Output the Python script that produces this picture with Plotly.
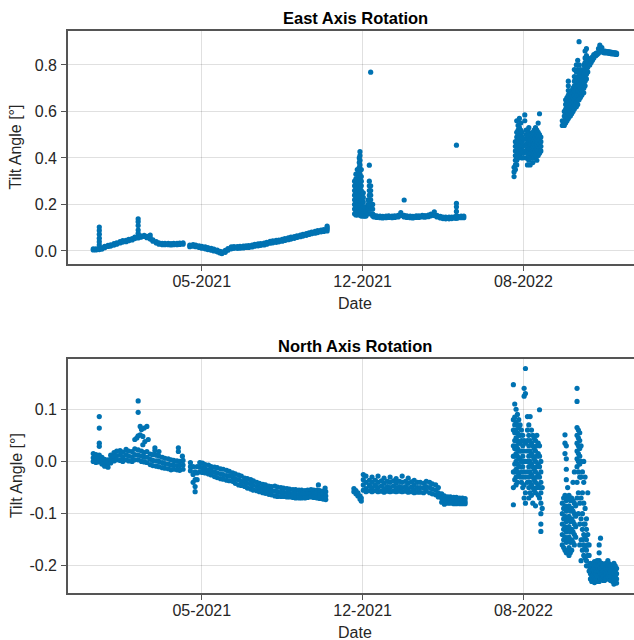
import pandas as pd
import plotly.graph_objects as go

BASE_DATE = "2020-11-01"   # day 0 of the day offsets below

# ---------------- East axis rotation: day offset -> readings [deg] ----------------
east_days = [
    21, 25, 30, 34, 38, 43, 47, 52, 56, 61, 65, 70, 74, 79, 83, 88, 92, 97, 101, 106,
    110, 115, 119, 124, 128, 133, 137, 141, 146, 150, 155,
    165, 170, 174, 179, 183, 188, 192, 197, 201, 206, 210, 213, 218, 222, 227,
    231, 236, 240, 245, 249, 253, 258, 262, 267, 271, 276, 280, 285, 289, 294,
    298, 303, 307, 312, 316, 321, 325, 330, 334, 339, 343, 347, 352, 356, 361, 365, 370,
    411, 413, 415, 418, 419, 421, 424, 426, 428, 431, 433, 435, 438,
    440, 444, 449, 453, 458, 462, 467, 471, 476, 480, 485, 489, 494, 498, 503,
    507, 512, 516, 521, 525, 530, 534, 539, 543, 547, 552, 556, 561, 563, 565, 570, 574,
    649, 651, 653, 655, 657, 659, 661, 663, 665, 667, 669, 671, 673, 675, 677,
    679, 681, 683, 685, 687, 689,
    721, 724, 726, 728, 730, 733, 735, 737, 739, 742, 744, 746, 748, 750, 753,
    755, 757, 759, 762, 764, 766, 768, 771, 773, 775, 777, 780, 782, 784, 786,
    789, 791, 793, 795, 798, 800, 802,
]
east_vals = [
    [0.009, 0.004], [0.009, 0.004], [0.011, 0.006, 0.026, 0.040, 0.055, 0.072, 0.088, 0.103],
    [0.013, 0.008], [0.020, 0.014], [0.024, 0.019], [0.026, 0.021], [0.031, 0.025],
    [0.035, 0.029], [0.040, 0.034], [0.044, 0.038], [0.046, 0.040], [0.050, 0.044],
    [0.053, 0.047], [0.059, 0.053], [0.062, 0.056, 0.076, 0.090, 0.109, 0.126, 0.138],
    [0.065, 0.059], [0.067, 0.062], [0.063, 0.057], [0.057, 0.051, 0.068],
    [0.048, 0.042], [0.040, 0.034], [0.035, 0.029], [0.033, 0.027], [0.033, 0.027],
    [0.033, 0.027], [0.032, 0.026], [0.033, 0.027], [0.033, 0.027], [0.034, 0.028],
    [0.035, 0.029],
    [0.025, 0.018], [0.027, 0.020], [0.025, 0.018], [0.022, 0.015], [0.020, 0.012],
    [0.017, 0.009], [0.014, 0.006], [0.011, 0.003], [0.008, 0.000], [0.004, -0.004],
    [-0.002, -0.009], [-0.004, -0.012], [0.002, -0.006], [0.010, 0.003], [0.017, 0.009],
    [0.019, 0.011], [0.019, 0.011], [0.020, 0.012], [0.021, 0.013], [0.022, 0.015],
    [0.023, 0.015], [0.025, 0.017], [0.028, 0.020], [0.030, 0.022], [0.032, 0.024],
    [0.034, 0.026], [0.037, 0.029], [0.041, 0.033], [0.043, 0.035], [0.045, 0.037],
    [0.047, 0.039], [0.050, 0.042], [0.053, 0.045], [0.056, 0.048], [0.059, 0.051],
    [0.062, 0.054], [0.065, 0.058], [0.068, 0.061], [0.071, 0.064], [0.075, 0.067],
    [0.078, 0.071], [0.081, 0.074], [0.084, 0.076], [0.087, 0.079], [0.090, 0.082],
    [0.092, 0.084], [0.094, 0.086, 0.100, 0.107],
    [0.30, 0.28, 0.26, 0.24, 0.22, 0.20, 0.18, 0.16],
    [0.33, 0.31, 0.29, 0.27, 0.25, 0.23, 0.21, 0.19, 0.17, 0.155],
    [0.35, 0.33, 0.31, 0.29, 0.27, 0.25, 0.23, 0.21, 0.19, 0.17, 0.155],
    [0.40, 0.38, 0.36, 0.34, 0.32, 0.30, 0.28, 0.26, 0.24, 0.22, 0.20, 0.18, 0.16],
    [0.427, 0.41, 0.39, 0.37, 0.35, 0.33, 0.31, 0.29, 0.27, 0.25, 0.23, 0.21, 0.19, 0.17, 0.155],
    [0.35, 0.32, 0.30, 0.28, 0.26, 0.24, 0.22, 0.20, 0.18, 0.16, 0.15],
    [0.25, 0.23, 0.21, 0.19, 0.17, 0.15],
    [0.19, 0.17, 0.15],
    [0.17, 0.15],
    [0.22, 0.20, 0.18, 0.16],
    [0.30, 0.28, 0.26, 0.24, 0.22, 0.20, 0.18, 0.16, 0.369],
    [0.28, 0.26, 0.24, 0.22, 0.20, 0.18, 0.16, 0.769],
    [0.20, 0.18, 0.16, 0.15],
    [0.153, 0.146], [0.151, 0.144], [0.150, 0.143], [0.149, 0.142], [0.150, 0.143],
    [0.151, 0.144], [0.150, 0.143], [0.151, 0.144], [0.153, 0.146], [0.165, 0.152],
    [0.153, 0.146, 0.219], [0.151, 0.144], [0.150, 0.143], [0.149, 0.142], [0.151, 0.144],
    [0.151, 0.144], [0.153, 0.146], [0.152, 0.145], [0.154, 0.147], [0.158, 0.151],
    [0.168, 0.152], [0.153, 0.146], [0.149, 0.142], [0.146, 0.139], [0.145, 0.138],
    [0.145, 0.138], [0.146, 0.139], [0.148, 0.141],
    [0.148, 0.141, 0.17, 0.19, 0.205, 0.455], [0.149, 0.142], [0.150, 0.143], [0.150, 0.143],
    [0.32, 0.34, 0.36],
    [0.35, 0.37, 0.39, 0.41, 0.43, 0.45, 0.47],
    [0.37, 0.39, 0.41, 0.43, 0.45, 0.47, 0.49, 0.51, 0.56],
    [0.40, 0.42, 0.44, 0.46, 0.48, 0.50, 0.52, 0.54],
    [0.41, 0.43, 0.45, 0.47, 0.49, 0.51, 0.53, 0.57],
    [0.42, 0.44, 0.46, 0.48, 0.50, 0.52, 0.55],
    [0.40, 0.43, 0.45, 0.47, 0.49, 0.51],
    [0.42, 0.45, 0.48],
    [0.56, 0.585],
    [0.40, 0.43, 0.46, 0.48, 0.50, 0.52],
    [0.37, 0.40, 0.42, 0.44, 0.46, 0.48, 0.50],
    [0.39, 0.41, 0.43, 0.45, 0.47, 0.49, 0.51, 0.53],
    [0.37, 0.40, 0.42, 0.44, 0.46, 0.48],
    [0.40, 0.42, 0.44, 0.46, 0.48, 0.50],
    [0.38, 0.41, 0.43, 0.45, 0.47, 0.49, 0.51],
    [0.40, 0.42, 0.44, 0.46, 0.48, 0.50, 0.52],
    [0.41, 0.43, 0.45, 0.47, 0.49, 0.51, 0.53],
    [0.39, 0.42, 0.44, 0.46, 0.48, 0.50, 0.52],
    [0.41, 0.43, 0.45, 0.47, 0.49, 0.51, 0.55],
    [0.42, 0.44, 0.46, 0.48, 0.50, 0.59],
    [0.43, 0.45, 0.47, 0.49],
    [0.54, 0.56],
    [0.54, 0.56, 0.58, 0.60],
    [0.55, 0.57, 0.59, 0.61, 0.63, 0.65],
    [0.56, 0.58, 0.60, 0.62, 0.64, 0.66],
    [0.57, 0.59, 0.61, 0.63, 0.65, 0.67, 0.69, 0.71, 0.73],
    [0.58, 0.60, 0.62, 0.64, 0.66, 0.68],
    [0.59, 0.61, 0.63, 0.65, 0.67, 0.69],
    [0.60, 0.62, 0.64, 0.66, 0.68, 0.70],
    [0.61, 0.63, 0.65, 0.67, 0.69, 0.71, 0.73, 0.75, 0.78],
    [0.62, 0.64, 0.66, 0.68, 0.70, 0.72, 0.74, 0.77, 0.80],
    [0.63, 0.65, 0.67, 0.69, 0.71, 0.73, 0.75, 0.78, 0.82],
    [0.65, 0.67, 0.69, 0.71, 0.73, 0.75, 0.77, 0.80, 0.90],
    [0.66, 0.68, 0.70, 0.72, 0.74, 0.76, 0.78],
    [0.67, 0.69, 0.71, 0.73, 0.75, 0.77],
    [0.68, 0.70, 0.72, 0.74, 0.76, 0.78, 0.80],
    [0.71, 0.73, 0.75, 0.77, 0.79, 0.81, 0.83, 0.86],
    [0.74, 0.76, 0.78, 0.80, 0.82, 0.84, 0.87],
    [0.77, 0.79, 0.81, 0.83],
    [0.80, 0.815], [0.81, 0.825], [0.82, 0.835], [0.83, 0.845], [0.84, 0.85],
    [0.845, 0.852], [0.85, 0.87], [0.86, 0.885], [0.86, 0.875], [0.853, 0.86],
    [0.852, 0.86], [0.852, 0.858], [0.851, 0.857], [0.85, 0.856], [0.849, 0.855],
    [0.848, 0.854], [0.847, 0.853], [0.846, 0.852], [0.845, 0.851],
]

# ---------------- North axis rotation: day offset -> readings [deg] ----------------
north_days = [
    21, 25, 30, 34, 38, 43, 47, 52, 56, 61, 65, 70, 74, 79, 83, 86, 88, 91, 93, 95,
    97, 98, 101, 103, 106, 110, 113, 115, 119, 124, 128, 133, 137, 141, 146, 148, 150, 154, 155,
    166, 170, 173, 176, 180, 184, 188, 193, 197, 202, 206, 211, 215, 220, 224,
    229, 233, 238, 242, 247, 251, 256, 260, 265, 269, 274, 278, 283, 287, 292,
    296, 301, 305, 310, 314, 319, 323, 328, 332, 337, 341, 346, 350, 355, 357, 359, 364, 367, 368,
    410, 413, 416, 419, 421, 424, 428, 433, 437, 442, 446, 451, 455, 460, 464,
    469, 473, 478, 482, 487, 491, 496, 500, 505, 509, 514, 518, 523, 527, 532,
    536, 541, 545, 550, 554, 559, 563, 568, 572, 576,
    648, 650, 652, 654, 656, 658, 660, 662, 664, 666, 669, 671, 673, 675, 677,
    679, 681, 683, 685, 687, 689, 691,
    721, 723, 725, 727, 729, 731, 733, 735, 737, 739, 741, 743, 745, 747, 749,
    751, 753, 755, 757, 759, 761, 763, 765, 767, 769, 771, 773, 776, 778, 780,
    782, 784, 786, 789, 791, 793, 796, 798, 800, 802,
]
north_vals = [
    [0.015, 0.007, 0.000], [0.013, 0.005, -0.002], [0.012, 0.004, -0.001, 0.029, 0.035, 0.064, 0.086],
    [0.008, 0.001, -0.005], [0.004, -0.003, -0.009], [0.003, -0.004, -0.011], [0.012, 0.004, -0.003],
    [0.017, 0.009, 0.001], [0.020, 0.011, 0.003], [0.021, 0.012, 0.002], [0.018, 0.009, 0.000],
    [0.023, 0.013, 0.003], [0.020, 0.010, 0.001], [0.019, 0.009, 0.000], [0.024, 0.013, 0.003, 0.042],
    [0.045], [0.022, 0.012, 0.003, 0.049, 0.094, 0.116], [0.067, 0.051], [0.020, 0.010, 0.000, 0.061],
    [0.048, 0.032], [0.017, 0.008, -0.001, 0.064], [0.038], [0.019, 0.008, -0.002, 0.067], [0.042],
    [0.014, 0.004, -0.006], [0.013, 0.002, -0.008], [0.026, 0.021], [0.012, 0.001, -0.009],
    [0.010, 0.000, -0.010, 0.019], [0.008, -0.002, -0.012], [0.006, -0.004, -0.013],
    [0.005, -0.005, -0.014], [0.003, -0.007, -0.016], [0.002, -0.007, -0.015], [0.001, -0.008, -0.016],
    [0.026, 0.019], [0.000, -0.008, -0.017], [0.010], [0.002, -0.007, -0.015],
    [-0.002, -0.010, -0.018], [-0.010, -0.025, -0.040], [-0.020, -0.035, -0.048, -0.058],
    [-0.010, -0.022, -0.035], [-0.002, -0.011, -0.020], [-0.003, -0.012, -0.021],
    [-0.006, -0.014, -0.022], [-0.007, -0.016, -0.024], [-0.010, -0.018, -0.026],
    [-0.011, -0.020, -0.029], [-0.012, -0.022, -0.031], [-0.014, -0.024, -0.033],
    [-0.015, -0.025, -0.034], [-0.017, -0.027, -0.036], [-0.019, -0.028, -0.037],
    [-0.022, -0.030, -0.038], [-0.024, -0.033, -0.042], [-0.026, -0.035, -0.045],
    [-0.028, -0.038, -0.046], [-0.032, -0.040, -0.048], [-0.033, -0.042, -0.051],
    [-0.035, -0.044, -0.053], [-0.037, -0.046, -0.055], [-0.040, -0.048, -0.056],
    [-0.042, -0.050, -0.058], [-0.044, -0.052, -0.060], [-0.045, -0.053, -0.061],
    [-0.047, -0.055, -0.063], [-0.048, -0.056, -0.064], [-0.047, -0.057, -0.066],
    [-0.049, -0.058, -0.067], [-0.050, -0.059, -0.067], [-0.051, -0.059, -0.067],
    [-0.052, -0.060, -0.068], [-0.053, -0.061, -0.068], [-0.054, -0.062, -0.069],
    [-0.054, -0.062, -0.070], [-0.055, -0.063, -0.070], [-0.055, -0.063, -0.070],
    [-0.056, -0.063, -0.070], [-0.055, -0.062, -0.069], [-0.054, -0.062, -0.068],
    [-0.055, -0.062, -0.069], [-0.055, -0.063, -0.070], [-0.045], [-0.056, -0.064, -0.071],
    [-0.057, -0.065, -0.072], [-0.051], [-0.058, -0.066, -0.073],
    [-0.052, -0.058], [-0.056, -0.062], [-0.060, -0.066], [-0.066, -0.072], [-0.070, -0.076],
    [-0.025, -0.035, -0.045, -0.055], [-0.028, -0.040, -0.052, -0.058], [-0.036, -0.046, -0.056],
    [-0.030, -0.040, -0.050, -0.058], [-0.036, -0.046, -0.056], [-0.028, -0.040, -0.050, -0.058],
    [-0.037, -0.047, -0.057], [-0.032, -0.042, -0.052, -0.059], [-0.038, -0.048, -0.057],
    [-0.030, -0.040, -0.050, -0.058], [-0.037, -0.047, -0.057], [-0.033, -0.042, -0.051, -0.058],
    [-0.038, -0.048, -0.057], [-0.028, -0.040, -0.050, -0.058], [-0.038, -0.048, -0.057],
    [-0.032, -0.042, -0.052, -0.059], [-0.039, -0.049, -0.058], [-0.036, -0.045, -0.054, -0.060],
    [-0.040, -0.050, -0.059], [-0.040, -0.050, -0.059], [-0.042, -0.051, -0.060],
    [-0.038, -0.048, -0.057], [-0.040, -0.050, -0.060], [-0.043, -0.053, -0.062],
    [-0.045, -0.055, -0.064], [-0.050, -0.060, -0.068], [-0.062, -0.070, -0.078],
    [-0.066, -0.074, -0.082], [-0.068, -0.074, -0.080], [-0.068, -0.074, -0.080],
    [-0.069, -0.075, -0.081], [-0.069, -0.075, -0.081], [-0.070, -0.076, -0.081],
    [-0.070, -0.076, -0.081], [-0.071, -0.077, -0.081],
    [0.147, 0.08, 0.06, 0.03, 0.01, -0.02, -0.05, -0.083],
    [0.11, 0.085, 0.07, 0.055, 0.04, 0.025, 0.01, -0.005, -0.02, -0.035],
    [0.10, 0.075, 0.06, 0.045, 0.03, 0.015, 0.0, -0.015, -0.03, -0.045],
    [0.09, 0.07, 0.055, 0.04, 0.025, 0.01, -0.005, -0.02, -0.04],
    [0.08, 0.065, 0.05, 0.035, 0.02, 0.005, -0.01, -0.025],
    [0.07, 0.05, 0.035, 0.02, 0.005, -0.01, -0.03],
    [0.06, 0.04, 0.02, 0.0, -0.02, -0.04],
    [0.05, 0.03, 0.01, -0.01, -0.03, -0.05],
    [0.14, 0.125, 0.04, 0.02, 0.0, -0.02, -0.045, -0.07],
    [0.178, 0.13, 0.035, 0.0, -0.03, -0.06, -0.08],
    [0.086, 0.06, 0.04, 0.02, 0.0, -0.02, -0.04],
    [0.07, 0.05, 0.03, 0.01, -0.01, -0.03, -0.05, -0.07],
    [0.086, 0.04, 0.02, 0.0, -0.02, -0.04, -0.06],
    [0.06, 0.035, 0.015, -0.005, -0.025, -0.045, -0.065],
    [0.05, 0.03, 0.01, -0.01, -0.03, -0.05, -0.08],
    [0.045, 0.025, 0.005, -0.015, -0.035, -0.055],
    [0.04, 0.02, 0.0, -0.02, -0.04, -0.06, -0.085],
    [0.05, 0.03, 0.01, -0.01, -0.03, -0.05],
    [0.035, 0.015, -0.005, -0.025, -0.045, -0.065],
    [0.099, 0.03, 0.01, -0.01, -0.03, -0.05, -0.07],
    [0.0, -0.02, -0.04, -0.06, -0.08, -0.10, -0.12, -0.134],
    [-0.05, -0.09],
    [-0.08, -0.10, -0.12, -0.14, -0.16],
    [-0.07, -0.09, -0.11, -0.13, -0.15, -0.165],
    [0.051, 0.035, 0.015, -0.065, -0.085, -0.105, -0.125, -0.145, -0.17],
    [0.03, 0.005, -0.015, -0.035, -0.075, -0.095, -0.115, -0.135, -0.155, -0.175],
    [-0.05, -0.07, -0.09, -0.11, -0.13, -0.15, -0.17],
    [-0.065, -0.085, -0.105, -0.125, -0.145, -0.165, -0.18],
    [-0.075, -0.095, -0.115, -0.135, -0.155, -0.175],
    [-0.07, -0.09, -0.11, -0.13, -0.15, -0.17],
    [-0.04, -0.075, -0.095, -0.115, -0.135, -0.155],
    [-0.02, -0.08, -0.10, -0.12, -0.14, -0.16],
    [-0.085, -0.105, -0.125, -0.145],
    [0.14, 0.115, 0.065, 0.05, 0.035, 0.02, 0.005, -0.01, -0.04, -0.07],
    [0.06, 0.045, 0.03, 0.015, 0.0, -0.02, -0.06, -0.10],
    [0.055, 0.04, 0.025, 0.01, -0.005, -0.03, -0.08, -0.12, -0.16],
    [0.03, 0.0, -0.03, -0.07, -0.11, -0.15, -0.19],
    [-0.02, -0.06, -0.10, -0.13, -0.15, -0.17],
    [0.0, -0.04, -0.08, -0.12, -0.14, -0.16, -0.18],
    [-0.03, -0.09, -0.12, -0.145, -0.165, -0.185],
    [-0.11, -0.13, -0.15, -0.17, -0.19, -0.20],
    [-0.06, -0.14, -0.16, -0.18, -0.20],
    [-0.16, -0.18, -0.20, -0.21],
    [-0.195, -0.205, -0.215, -0.225],
    [-0.20, -0.21, -0.22, -0.23],
    [-0.198, -0.208, -0.218, -0.228],
    [-0.192, -0.202, -0.212, -0.222, -0.232],
    [-0.195, -0.205, -0.215, -0.225],
    [-0.19, -0.20, -0.21, -0.22, -0.23],
    [-0.16, -0.175, -0.19, -0.20, -0.21, -0.22, -0.23],
    [-0.147, -0.195, -0.205, -0.215, -0.225],
    [-0.195, -0.205, -0.215, -0.225],
    [-0.20, -0.21, -0.22, -0.228],
    [-0.198, -0.208, -0.218, -0.228],
    [-0.195, -0.205, -0.215, -0.225],
    [-0.19, -0.20, -0.21, -0.22],
    [-0.196, -0.206, -0.216, -0.226],
    [-0.20, -0.21, -0.22, -0.228],
    [-0.198, -0.208, -0.218, -0.23],
    [-0.195, -0.205, -0.215, -0.225, -0.235],
    [-0.20, -0.21, -0.22, -0.23],
    [-0.205, -0.215, -0.225, -0.233],
]

# ---------------- ticks ----------------
x_tick_dates = ["2021-05-03", "2021-12-29", "2022-08-26"]
x_tick_labels = ["05-2021", "12-2021", "08-2022"]
east_y_ticks = [0.0, 0.2, 0.4, 0.6, 0.8]
north_y_ticks = [-0.2, -0.1, 0.0, 0.1]

assert len(east_days) == len(east_vals), (len(east_days), len(east_vals))
assert len(north_days) == len(north_vals), (len(north_days), len(north_vals))


def flatten(days, vals):
    xs, ys = [], []
    for d, vs in zip(days, vals):
        for v in vs:
            xs.append(d)
            ys.append(v)
    dates = pd.Timestamp(BASE_DATE) + pd.to_timedelta(xs, unit="D")
    return list(dates), ys


ex, ey = flatten(east_days, east_vals)
nx, ny = flatten(north_days, north_vals)

BLUE = "#0072B2"
FONT = "Liberation Sans, Arial, Helvetica, sans-serif"
SPINE = "#555555"
TXT = "#262626"
GRID = "rgba(0,0,0,0.12)"
MSIZE = 5.2

base = pd.Timestamp(BASE_DATE)
x_range = [base + pd.Timedelta(days=-16.7), base + pd.Timedelta(days=828.0)]

fig = go.Figure()
fig.add_trace(go.Scatter(x=ex, y=ey, mode="markers", xaxis="x", yaxis="y",
                         marker=dict(color=BLUE, size=MSIZE, line=dict(width=0)),
                         showlegend=False, hoverinfo="skip"))
fig.add_trace(go.Scatter(x=nx, y=ny, mode="markers", xaxis="x2", yaxis="y2",
                         marker=dict(color=BLUE, size=MSIZE, line=dict(width=0)),
                         showlegend=False, hoverinfo="skip"))

W, H = 634, 640
mt, mb = 31, 46.7
paper_h = H - mt - mb


def py(pix):
    return (H - mb - pix) / paper_h


xcommon = dict(
    type="date", range=x_range, tickmode="array",
    tickvals=x_tick_dates, ticktext=x_tick_labels,
    showgrid=True, gridcolor=GRID, gridwidth=1, zeroline=False,
    showline=True, linecolor=SPINE, linewidth=1.6, mirror=True,
    ticks="outside", ticklen=5, tickwidth=1.2, tickcolor=SPINE,
    tickfont=dict(family=FONT, size=16, color=TXT), ticklabelstandoff=-3,
    automargin=False,
)
ycommon = dict(
    showgrid=True, gridcolor=GRID, gridwidth=1, zeroline=False,
    showline=True, linecolor=SPINE, linewidth=1.6, mirror=False,
    ticks="outside", ticklen=5, tickwidth=1.2, tickcolor=SPINE,
    tickfont=dict(family=FONT, size=16, color=TXT), ticklabelstandoff=1,
    automargin=False, tickmode="array",
)

fig.update_layout(
    width=W, height=H,
    margin=dict(l=68, r=0, t=mt, b=mb, pad=0),
    paper_bgcolor="white", plot_bgcolor="white",
    template="none",
    xaxis=dict(domain=[0, 1], anchor="y", **xcommon),
    yaxis=dict(domain=[py(264.3), 1], anchor="x", range=[-0.057, 0.946],
               tickvals=east_y_ticks, ticktext=[f"{v:.1f}" for v in east_y_ticks], **ycommon),
    xaxis2=dict(domain=[0, 1], anchor="y2", **xcommon),
    yaxis2=dict(domain=[0, py(359.3)], anchor="x2", range=[-0.252, 0.196],
                tickvals=north_y_ticks, ticktext=[f"{v:.1f}" for v in north_y_ticks], **ycommon),
)

cx = (355.4 - 68) / (W - 68)
ylab_x = (16 - 68) / (W - 68)
annos = [
    dict(text="East Axis Rotation", x=cx, y=py(17.5), font=dict(family=FONT, size=16.5, color="black", weight="bold")),
    dict(text="North Axis Rotation", x=cx, y=py(346), font=dict(family=FONT, size=16.5, color="black", weight="bold")),
    dict(text="Date", x=cx, y=py(303.5), font=dict(family=FONT, size=16, color=TXT)),
    dict(text="Date", x=cx, y=py(633), font=dict(family=FONT, size=16, color=TXT)),
    dict(text="Tilt Angle [°]", x=ylab_x, y=py(147.6), textangle=-90, font=dict(family=FONT, size=16, color=TXT)),
    dict(text="Tilt Angle [°]", x=ylab_x, y=py(476.3), textangle=-90, font=dict(family=FONT, size=16, color=TXT)),
]
for a in annos:
    fig.add_annotation(xref="paper", yref="paper", xanchor="center", yanchor="middle",
                       showarrow=False, **a)

fig.write_html("out.html")
